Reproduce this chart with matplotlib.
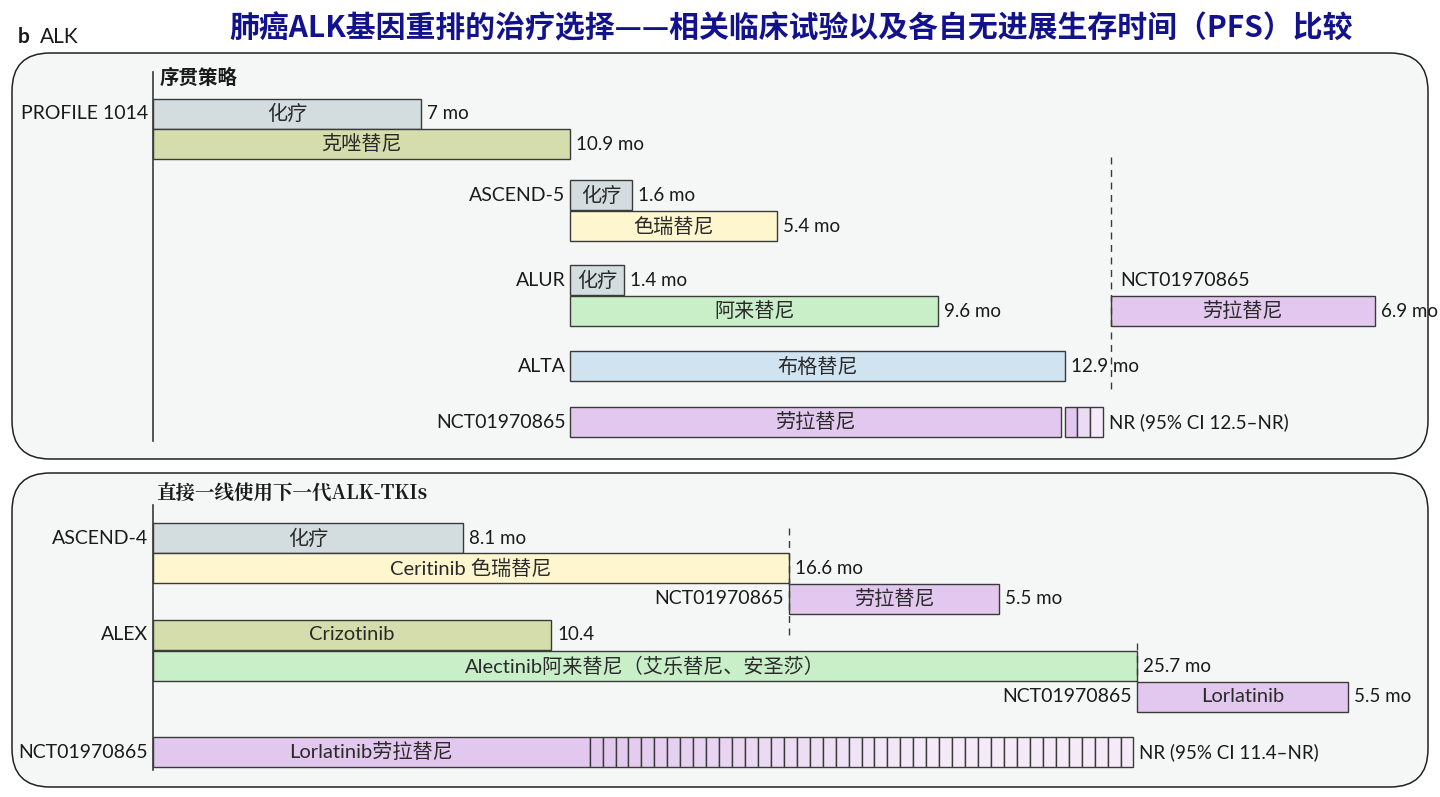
import numpy as np
import matplotlib.pyplot as plt
from matplotlib.patches import FancyBboxPatch
from matplotlib.colors import to_rgb

plt.rcParams['font.family'] = ['Lato', 'Noto Sans CJK SC', 'DejaVu Sans']

# ---- data (months) ----
drug_colors = {
    'chemo': '#d3dde0',
    'crizotinib': '#d4ddab',
    'ceritinib': '#fdf6cf',
    'alectinib': '#c9efc9',
    'brigatinib': '#cfe3f0',
    'lorlatinib': '#e2c8ee',
}

# top panel: sequential strategy
top_text = ['化疗', '克唑替尼', '化疗', '色瑞替尼', '化疗', '阿来替尼', '劳拉替尼', '布格替尼', '劳拉替尼']
top_drug = ['chemo', 'crizotinib', 'chemo', 'ceritinib', 'chemo', 'alectinib', 'lorlatinib', 'brigatinib', 'lorlatinib']
top_start = [0, 0, 10.9, 10.9, 10.9, 10.9, 25.0, 10.9, 10.9]
top_pfs = [7, 10.9, 1.6, 5.4, 1.4, 9.6, 6.9, 12.9, 12.8]
top_value = ['7 mo', '10.9 mo', '1.6 mo', '5.4 mo', '1.4 mo', '9.6 mo', '6.9 mo', '12.9 mo', 'NR (95% CI 12.5–NR)']
top_trials = ['PROFILE 1014', 'ASCEND-5', 'ALUR', 'NCT01970865', 'ALTA', 'NCT01970865']
top_trial_bar = [0, 2, 4, 6, 7, 8]
top_nr = (8, 12.9, 13.9)  # bar index, NR hatch start/end relative to bar start

# bottom panel: first-line next-generation ALK-TKIs
bot_text = ['化疗', 'Ceritinib 色瑞替尼', '劳拉替尼', 'Crizotinib',
            'Alectinib阿来替尼（艾乐替尼、安圣莎）', 'Lorlatinib', 'Lorlatinib劳拉替尼']
bot_drug = ['chemo', 'ceritinib', 'lorlatinib', 'crizotinib', 'alectinib', 'lorlatinib', 'lorlatinib']
bot_start = [0, 0, 16.6, 0, 0, 25.7, 0]
bot_pfs = [8.1, 16.6, 5.5, 10.4, 25.7, 5.5, 11.4]
bot_value = ['8.1 mo', '16.6 mo', '5.5 mo', '10.4', '25.7 mo', '5.5 mo', 'NR (95% CI 11.4–NR)']
bot_trials = ['ASCEND-4', 'NCT01970865', 'ALEX', 'NCT01970865', 'NCT01970865']
bot_trial_bar = [0, 2, 3, 5, 6]
bot_nr = (6, 11.4, 25.6)

# ---- layout ----
W, H = 1440, 797
x0, scale = 153, 38.3          # pixel of month 0, pixels per month
bar_h = 30
top_y = [113.5, 144, 195, 226, 280, 311, 311, 366, 422]
bot_y = [538, 568, 599, 635, 666, 697, 752]
edge = '#3a3a3a'
txt = '#1a1a1a'

fig = plt.figure(figsize=(W / 100, H / 100), dpi=100)
bg = fig.add_axes([0, 0, 1, 1])
bg.set_xlim(0, W)
bg.set_ylim(H, 0)
bg.axis('off')

for (y0, y1) in [(53, 459), (473, 787)]:
    bg.add_patch(FancyBboxPatch((12, y0), 1416, y1 - y0,
                                boxstyle='round,pad=0,rounding_size=38',
                                facecolor='#f5f7f6', edgecolor='#222222', lw=1.1))

bg.text(18, 37, 'b', fontsize=15, fontweight='bold', color=txt, va='center')
bg.text(40, 37, 'ALK', fontsize=15, color=txt, va='center')
bg.text(791, 28, '肺癌ALK基因重排的治疗选择——相关临床试验以及各自无进展生存时间（PFS）比较',
        fontsize=21.5, fontweight='bold', color='#12128c', ha='center', va='center',
        family=['Noto Sans CJK SC', 'DejaVu Sans'])
bg.text(160, 78, '序贯策略', fontsize=14, fontweight='bold', color=txt, va='center',
        family=['Noto Sans CJK SC'])
bg.text(156, 494, '直接一线使用下一代ALK-TKIs', fontsize=14, fontweight='bold', color=txt,
        va='center', family=['Noto Serif CJK SC', 'Noto Sans CJK SC'])

ax = fig.add_axes([0, 0, 1, 1])
ax.patch.set_alpha(0)
ax.set_xlim(-x0 / scale, (W - x0) / scale)
ax.set_ylim(H, 0)
ax.axis('off')

gap = 6 / scale


def draw_panel(texts, drugs, starts, pfs, values, ys, trials, trial_bar, nr):
    colors = [drug_colors[d] for d in drugs]
    ax.barh(ys, pfs, left=starts, height=bar_h, color=colors, edgecolor=edge, lw=1)
    for i in range(len(texts)):
        ax.text(starts[i] + pfs[i] / 2, ys[i], texts[i], ha='center', va='center',
                fontsize=14.5, color='#2a2a2a')
        end = starts[i] + pfs[i]
        if i == nr[0]:
            end = starts[i] + nr[2]
        ax.text(end + gap, ys[i], values[i], ha='left', va='center', fontsize=13.5, color=txt)
    # NR hatched region
    i, a, b = nr
    n = int(round((b - a) / 0.34))
    edges = np.linspace(starts[i] + a, starts[i] + b, n + 1)
    c0, c1 = np.array(to_rgb('#e2c8ee')), np.array(to_rgb('#f4eaf8'))
    cols = [c0 + (c1 - c0) * min(1, k / max(1, n * 0.6)) for k in range(n)]
    ax.barh([ys[i]] * n, np.diff(edges), left=edges[:-1], height=bar_h,
            color=cols, edgecolor=edge, lw=1)
    for name, j in zip(trials, trial_bar):
        if drugs[j] == 'lorlatinib' and starts[j] > 20 and ys[j] < 400:
            ax.text(starts[j] + 10 / scale, ys[j] - 31, name, ha='left', va='center',
                    fontsize=14, color=txt)
        else:
            ax.text(starts[j] - 5 / scale, ys[j], name, ha='right', va='center',
                    fontsize=14, color=txt)


draw_panel(top_text, top_drug, top_start, top_pfs, top_value, top_y,
           top_trials, top_trial_bar, top_nr)
draw_panel(bot_text, bot_drug, bot_start, bot_pfs, bot_value, bot_y,
           bot_trials, bot_trial_bar, bot_nr)

# axis spines and dashed guides
ax.plot([0, 0], [72, 441], color=edge, lw=1.2)
ax.plot([0, 0], [505, 770], color=edge, lw=1.2)
ax.plot([top_start[6]] * 2, [157, 390], color=edge, lw=1, ls=(0, (5, 4)))
ax.plot([bot_start[2]] * 2, [528, 636], color=edge, lw=1, ls=(0, (5, 4)))
ax.plot([bot_start[5]] * 2, [643, 682], color=edge, lw=1, ls=(0, (5, 4)))

fig.savefig('out.png', dpi=100)
